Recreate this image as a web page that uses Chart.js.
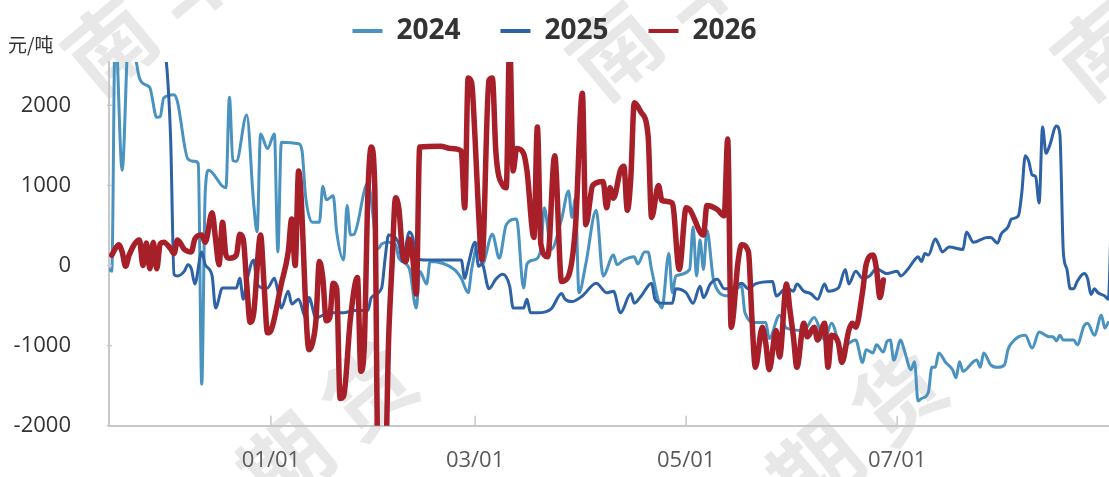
<!DOCTYPE html>
<html>
<head>
<meta charset="utf-8">
<script src="https://cdn.jsdelivr.net/npm/chart.js@4.4.1/dist/chart.umd.min.js"></script>
<style>
  html, body { margin: 0; padding: 0; background: #fff; }
  #wrap { width: 1109px; height: 477px; position: relative; }
</style>
</head>
<body>
<div id="wrap"><canvas id="myChart"></canvas></div>
<script>
// days counted from 01/01 (negative = Nov/Dec of the year before)
var days2024 = [-47,-46,-45,-43,-41,-38,-36,-35,-33,-32,-31,-28,-27,-24,-22,-21,-20,-19,-18,-14,
  -13,-12,-11,-10,-7,-5,-4,-3,-1,1,2,3,8,9,10,12,14,15,16,18,19,21,22,23,24,28,31,32,34,36,
  37,40,42,43,45,46,53,55,57,58,60,61,64,66,68,71,73,74,76,78,79,81,84,86,87,88,89,91,94,96,
  99,100,102,105,106,108,109,110,113,115,116,117,121,122,123,124,125,126,128,132,
  136,137,140,143,144,147,149,154,157,159,160,162,165,167,169,171,172,174,175,177,
  178,179,180,182,183,185,186,187,188,190,191,192,193,195,197,198,199,200,203,204,
  205,206,208,210,212,213,214,216,218,220,222,225,226,227,228,229,232,233,235,236,238,240,241,242];
var vals2024 = [-40,-70,3000,1190,3000,2340,2250,2220,1850,1860,2090,2130,2040,1330,1300,1270,-1480,910,1190,990,
  970,2100,1310,1300,1880,780,420,1640,1460,1640,170,1540,1520,1430,870,540,540,990,820,870,
  420,70,750,380,390,1030,210,270,290,260,90,-40,-530,-70,-230,50,-50,-160,-340,-50,
  290,10,390,90,510,580,-280,20,70,200,720,200,580,930,600,840,-340,20,690,-130,
  130,10,70,110,20,170,170,-50,-530,150,-340,-130,-50,480,-130,320,-50,440,-200,-380,
  -260,-590,-710,-710,-910,-620,-780,-810,-650,-840,-930,-720,-1050,-970,-930,-1210,-1050,-1090,-990,-1080,
  -950,-930,-1180,-930,-1050,-1300,-1200,-1690,-1660,-1580,-1270,-1270,-1090,-1210,-1300,-1400,-1200,-1320,-1200,-1180,
  -1270,-1090,-1240,-1270,-1240,-1050,-970,-890,-870,-1030,-830,-890,-890,-940,-870,-930,-930,-990,-750,-720,
  -870,-620,-780,-710];

var days2025 = [-47,-38,-31,-29,-28,-27,-25,-24,-23,-22,-20,-19,-17,-16,-14,-10,-9,-8,-7,-5,
  -4,-2,-1,1,2,3,5,6,8,10,11,13,17,21,24,28,29,32,33,34,37,38,40,41,42,44,55,56,57,59,
  60,61,63,65,67,69,70,73,74,75,77,81,84,85,87,90,94,97,99,101,104,105,107,110,111,113,116,117,120,122,
  124,125,127,129,131,133,136,138,140,145,146,149,151,152,154,156,158,160,161,164,
  166,167,169,171,173,175,178,181,182,184,186,187,188,189,190,192,193,194,196,200,
  201,203,207,208,210,211,213,214,216,217,218,219,220,221,222,223,224,225,227,228,
  229,230,231,232,233,235,236,237,238,239,241,242,243];
var vals2025 = [3000,3300,2800,1600,-110,-130,-70,10,-40,-230,170,10,-130,-530,-280,-280,-160,-420,-200,70,
  -230,-280,-280,-160,-320,-530,-320,-480,-420,-650,-400,-650,-590,-590,-560,-560,-400,-280,90,380,
  270,50,420,350,90,70,70,-160,10,290,-10,20,-290,-170,-110,-260,-530,-530,-420,-590,
  -590,-540,-350,-420,-450,-380,-220,-340,-320,-590,-350,-470,-380,-220,-420,-470,-470,-290,-340,-470,
  -260,-400,-230,-170,-290,-290,-220,-290,-230,-200,-380,-280,-320,-230,-320,-350,-420,-230,-320,-280,
  -50,-230,-70,-160,-130,-40,-100,-70,-130,-50,70,110,50,150,130,330,260,170,230,200,
  420,290,350,350,280,390,480,580,620,910,1370,1300,1130,1110,780,1730,1400,1490,1740,1640,
  170,-40,-290,-290,-200,-100,-160,-360,-290,-340,-380,-420,900];

var days2026 = [-46,-44,-43,-42,-41,-38,-37,-36,-35,-34,-33,-32,-31,-29,-28,-27,-25,-23,-22,-20,
  -19,-17,-16,-15,-14,-13,-12,-10,-9,-8,-7,-6,-5,-3,-2,-1,0,3,5,6,
  7,8,11,12,13,14,15,16,17,18,19,20,21,23,25,26,27,28,29,30,
  31,33,34,35,36,37,38,39,40,41,42,43,49,52,55,56,57,58,59,60,
  61,63,64,65,67,68,69,70,71,73,74,76,77,78,80,82,84,86,88,90,
  91,93,96,97,98,99,101,102,103,104,105,107,109,110,112,113,116,118,120,121,
  125,126,129,131,132,133,135,136,138,139,140,142,143,144,146,147,149,150,151,152,
  154,155,157,158,160,161,162,164,165,167,168,169,171,172,174,175,176,177];
var vals2026 = [130,260,170,-10,130,320,0,280,-40,290,-40,270,290,210,150,320,200,170,330,380,
  290,660,330,10,540,130,90,130,390,330,-230,-710,-600,380,-230,-840,-810,-230,170,580,
  0,1180,-1050,-970,-690,50,-160,-690,-650,-220,-290,-1660,-1630,-650,-150,-1320,-970,870,1480,990,
  -2600,-2600,-930,10,845,700,170,50,330,90,-355,1480,1490,1460,1430,720,2340,2280,1580,660,
  70,2310,2340,1420,1000,970,2800,1180,1460,1400,1180,350,1730,270,110,1370,-200,-130,480,2150,
  510,1000,1050,720,970,840,1190,1240,690,1090,2030,1910,1620,600,1000,810,780,-50,720,700,
  380,750,700,620,1580,-770,50,260,170,-650,-1270,-770,-970,-1300,-810,-1140,-230,-560,-890,-1270,
  -720,-890,-770,-930,-720,-1270,-870,-970,-1210,-810,-720,-770,-320,10,130,-40,-400,-180];

var tickDays = [0, 59, 120, 181];
var tickLabels = ["01/01", "03/01", "05/01", "07/01"];
var yTicks = [-2000, -1000, 0, 1000, 2000];
var unitLabel = "元/吨";
var watermark = "南华期货";

function toPoints(days, vals) {
  return days.map(function (d, i) { return { x: d, y: vals[i] }; });
}

document.addEventListener("DOMContentLoaded", function () {
  var ctx = document.getElementById("myChart").getContext("2d");

  var watermarkPlugin = {
    id: "watermark",
    beforeDraw: function (chart) {
      var c = chart.ctx;
      var spots = [[110, 45], [615, 50], [1100, 50], [120, 600], [650, 605]];
      c.save();
      c.fillStyle = "rgba(0,0,0,0.09)";
      c.font = "bold 88px 'Noto Sans CJK SC'";
      c.textAlign = "center";
      c.textBaseline = "middle";
      spots.forEach(function (p) {
        c.save();
        c.translate(p[0], p[1]);
        c.rotate(-40 * Math.PI / 180);
        for (var i = 0; i < watermark.length; i++) c.fillText(watermark[i], i * 108, 0);
        c.restore();
      });
      c.restore();
    }
  };

  // legend a bit taller than chart.js makes it, so the plot starts lower
  var legendHeightPlugin = {
    id: "legendHeight",
    beforeUpdate: function (chart) {
      var lg = chart.legend;
      if (lg && !lg._wrapped) {
        var fit = lg.fit;
        lg.fit = function () {
          fit.apply(this, arguments);
          this.height = 85;
        };
        lg._wrapped = true;
      }
    }
  };

  var axisMarks = {
    id: "axisMarks",
    afterDraw: function (chart) {
      var c = chart.ctx, xs = chart.scales.x, ys = chart.scales.y, area = chart.chartArea;
      c.save();
      c.strokeStyle = "#c8c8c8";
      c.lineWidth = 1.5;
      tickDays.forEach(function (d) {
        var px = xs.getPixelForValue(d);
        c.beginPath();
        c.moveTo(px, area.bottom);
        c.lineTo(px, area.bottom - 10);
        c.stroke();
      });
      yTicks.forEach(function (v) {
        var py = ys.getPixelForValue(v);
        c.beginPath();
        c.moveTo(area.left - 2, py);
        c.lineTo(area.left + 3, py);
        c.stroke();
      });
      c.fillStyle = "#333";
      c.font = "19px 'Noto Sans CJK SC'";
      c.textAlign = "left";
      c.textBaseline = "middle";
      c.fillText(unitLabel, 8, 45);
      c.restore();
    }
  };

  var data = {
    datasets: [
      {
        label: "2024",
        data: toPoints(days2024, vals2024),
        borderColor: "#4a92c0",
        backgroundColor: "#4a92c0",
        borderWidth: 3,
        order: 2,
      },
      {
        label: "2025",
        data: toPoints(days2025, vals2025),
        borderColor: "#2e62a6",
        backgroundColor: "#2e62a6",
        borderWidth: 3,
        order: 1,
      },
      {
        label: "2026",
        data: toPoints(days2026, vals2026),
        borderColor: "#a61f29",
        backgroundColor: "#a61f29",
        borderWidth: 5.5,
        order: 0,
      },
    ],
  };

  var options = {
    responsive: true,
    maintainAspectRatio: false,
    animation: false,
    layout: { padding: { top: -23, left: 0, right: 0, bottom: 0 } },
    elements: {
      point: { radius: 0, hoverRadius: 0 },
      line: { tension: 0.4, cubicInterpolationMode: "monotone", borderJoinStyle: "round", borderCapStyle: "round" },
    },
    plugins: {
      tooltip: { enabled: false },
      legend: {
        position: "top",
        align: "center",
        labels: {
          boxWidth: 30,
          boxHeight: 4,
          padding: 40,
          color: "#333",
          font: { family: "'Open Sans'", size: 28, weight: "bold" },
          generateLabels: function (chart) {
            return chart.data.datasets.map(function (ds, i) {
              return {
                text: ds.label,
                fillStyle: ds.borderColor,
                strokeStyle: ds.borderColor,
                lineWidth: 0,
                hidden: false,
                datasetIndex: i,
                fontColor: "#333",
              };
            });
          },
        },
      },
    },
    scales: {
      x: {
        type: "linear",
        min: -46.8,
        max: 242.2,
        afterBuildTicks: function (s) {
          s.ticks = tickDays.map(function (v) { return { value: v }; });
        },
        afterFit: function (s) { s.height = 45; },
        ticks: {
          autoSkip: false,
          maxRotation: 0,
          padding: 22,
          color: "#595959",
          font: { family: "'Open Sans'", size: 22 },
          callback: function (v) {
            var i = tickDays.indexOf(v);
            return i >= 0 ? tickLabels[i] : "";
          },
        },
        grid: { display: false, drawTicks: false },
        border: { color: "#c8c8c8", width: 2 },
      },
      y: {
        min: -2000,
        max: 2540,
        afterBuildTicks: function (s) {
          s.ticks = yTicks.map(function (v) { return { value: v }; });
        },
        afterFit: function (s) { s.width = 109; },
        ticks: {
          padding: 38,
          color: "#333",
          font: { family: "'Open Sans'", size: 22 },
          callback: function (v) { return String(v); },
        },
        grid: { display: false, drawTicks: false },
        border: { color: "#c8c8c8", width: 2 },
      },
    },
  };

  var myChart = new Chart(ctx, {
    type: "line",
    data: data,
    options: options,
    plugins: [watermarkPlugin, legendHeightPlugin, axisMarks],
  });
});
</script>
</body>
</html>
